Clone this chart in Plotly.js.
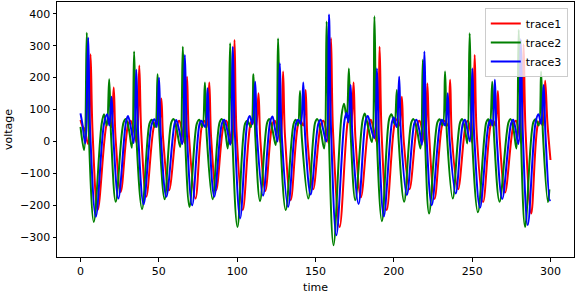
<!DOCTYPE html>
<html>
<head>
<meta charset="utf-8">
<script src="https://cdn.plot.ly/plotly-3.0.1.min.js"></script>
<style>html,body{margin:0;padding:0;background:#fff;}#chart{width:576px;height:296px;}</style>
</head>
<body>
<div id="chart"></div>
<script>
// trace1 (red) key points
const t1 = [0,1.5,2.5,4.8,6.4,7.7,11.0,16.5,18.2,19.7,21.2,22.4,25.7,30.5,32.0,34.0,35.9,37.5,38.8,42.0,47.0,48.8,50.2,51.6,52.8,56.5,61.8,63.0,64.8,66.5,68.0,69.2,73.4,77.5,79.0,80.6,82.2,83.4,86.6,91.5,93.0,94.8,96.7,98.3,99.6,103.6,108.5,110.0,112.0,113.6,114.8,118.0,122.5,124.0,126.0,127.8,129.3,130.5,134.2,139.0,140.5,142.2,143.7,144.9,148.5,153.5,155.0,156.8,158.4,159.9,161.2,165.4,170.5,171.8,172.9,174.3,175.5,179.0,184.0,185.3,187.3,189.4,190.9,192.2,195.5,200.5,202.0,203.6,205.1,206.3,210.0,215.0,216.3,218.2,219.9,221.4,222.6,226.0,231.0,232.5,234.3,235.9,237.1,241.0,246.0,247.3,248.8,250.1,251.6,252.9,257.0,262.0,263.5,264.9,266.4,267.6,271.0,276.5,278.0,279.6,281.3,282.8,284.1,287.7,292.0,293.5,295.1,296.6,298.0,300.0];
const v1 = [67,45,40,-8,273,30,-215,50,70,45,169,10,-158,55,65,35,-5,238,25,-173,50,65,50,135,5,-153,55,65,35,-5,203,20,-179,50,65,45,185,10,-153,55,65,35,-5,318,30,-215,55,68,45,151,5,-155,55,65,35,-5,219,20,-184,55,65,50,161,5,-150,55,65,35,-5,324,30,-268,60,80,55,185,10,-175,55,68,35,-5,297,25,-215,55,70,50,140,5,-150,55,65,35,-5,182,15,-180,55,65,50,193,10,-150,55,65,35,-5,271,25,-190,55,65,50,158,5,-160,55,65,35,-5,305,30,-226,55,65,50,190,60,-58];

// trace2 (green)
const t2 = [0,2.3,4.0,5.2,8.5,13.5,15.0,16.8,18.3,19.5,22.5,27.5,29.0,31.0,32.8,34.2,35.5,39.3,44.0,45.5,47.6,49.2,50.4,53.7,58.0,59.5,61.5,63.6,65.3,66.6,69.6,74.2,75.8,77.8,79.4,80.6,84.3,88.8,90.3,92.3,94.0,95.5,96.8,100.2,105.0,106.5,108.8,110.4,111.6,114.6,119.2,120.6,122.6,124.6,126.1,127.4,131.0,136.0,137.4,138.8,140.1,141.3,145.4,149.8,151.2,153.3,155.5,157.1,158.4,161.5,166.6,168.2,169.9,171.3,172.4,175.4,180.0,181.4,183.6,186.0,187.6,188.9,192.4,197.0,198.5,200.4,201.9,203.0,206.6,211.2,212.6,214.8,217.0,218.5,219.8,222.5,227.8,229.2,231.2,232.7,233.9,237.6,242.3,243.7,245.5,246.9,248.4,249.7,253.7,259.0,260.3,261.4,262.8,264.0,267.5,273.2,274.6,276.5,278.2,279.7,281.0,283.8,289.0,290.5,292.5,294.0,295.2,298.4,299.3];
const v2 = [46,-27,341,40,-252,55,85,50,195,20,-189,60,70,35,-20,282,30,-212,55,68,45,211,20,-181,60,70,35,-17,297,30,-205,55,68,45,185,15,-181,60,70,35,-22,308,30,-268,55,65,45,211,15,-187,60,70,35,-11,323,30,-215,55,68,50,158,10,-179,60,70,35,-22,376,40,-325,80,118,75,229,30,-184,65,88,45,-2,392,40,-250,70,85,55,161,10,-189,60,70,35,-22,256,25,-226,60,70,50,219,20,-179,60,70,35,-6,339,35,-222,60,70,50,187,15,-189,60,70,35,-22,350,35,-268,60,70,50,219,20,-190,-150];

// trace3 (blue)
const t3 = [0,1.2,3.0,4.9,6.1,9.8,15.0,17.0,18.4,19.8,21.0,24.2,29.0,30.3,32.3,34.0,35.6,36.8,40.3,45.5,47.3,48.7,50.1,51.3,54.8,60.0,61.1,63.0,64.9,66.6,67.9,71.3,76.0,77.2,79.6,81.1,82.3,85.4,90.2,91.7,93.7,95.6,97.2,98.5,101.9,106.5,108.0,109.8,111.5,112.7,116.5,121.0,122.5,124.3,125.8,127.2,128.4,132.5,137.5,139.0,140.6,142.2,143.4,146.9,151.8,153.3,155.0,156.9,158.6,159.9,163.3,168.5,169.8,171.0,172.4,173.6,177.5,182.0,183.4,185.5,187.6,189.2,190.4,193.6,198.8,200.0,201.8,203.4,204.6,208.3,213.0,214.4,216.3,218.0,219.5,220.8,224.2,229.5,230.8,232.8,234.4,235.6,239.5,244.0,245.4,247.0,248.6,250.1,251.3,255.0,260.5,261.8,263.0,264.5,265.7,269.2,274.8,276.2,277.8,279.5,281.0,282.3,285.5,290.5,292.3,294.0,295.6,296.8,299.5,299.8];
const v3 = [88,55,-6,325,40,-236,55,85,50,140,10,-179,60,80,40,-5,225,25,-197,55,70,45,200,15,-173,55,67,35,-8,271,25,-200,55,65,45,167,10,-173,55,68,35,-10,297,30,-241,60,80,55,187,15,-170,60,78,35,0,245,25,-205,55,68,55,185,15,-166,55,68,35,0,398,40,-294,65,90,60,177,15,-196,65,80,40,10,229,25,-235,60,75,45,203,15,-168,55,68,35,-10,282,25,-200,55,68,50,151,5,-163,55,68,35,0,229,20,-208,55,68,50,193,10,-180,55,68,35,-8,320,30,-262,60,85,55,177,20,-185,-182];

const names = ['trace1','trace2','trace3'];
const colors = ['#ff0000','#008000','#0000ff'];
const xTicks = [0,50,100,150,200,250,300];
const yTicks = [-300,-200,-100,0,100,200,300,400];

const xs = [t1,t2,t3], ys = [v1,v2,v3];
const data = xs.map((x,i)=>({
  x: x, y: ys[i], type:'scatter', mode:'lines', name: names[i],
  line:{color:colors[i], width:2, shape:'spline', smoothing:1}
}));

const font = {family:'DejaVu Sans, sans-serif', size:11, color:'#000'};
const layout = {
  width:576, height:296,
  margin:{l:57, r:2, t:2, b:39, pad:0},
  paper_bgcolor:'#fff', plot_bgcolor:'#fff',
  font: font,
  showlegend:true,
  legend:{x:0.988, y:0.976, xanchor:'right', yanchor:'top',
    bgcolor:'rgba(255,255,255,0.8)', bordercolor:'#cccccc', borderwidth:1,
    font:font, itemwidth:30},
  xaxis:{range:[-15,315], tickvals:xTicks, ticktext:xTicks.map(String),
    showgrid:false, zeroline:false, showline:true, mirror:true, linecolor:'#000', linewidth:1,
    ticks:'outside', ticklen:3.5, tickcolor:'#000', tickfont:font,
    title:{text:'time', font:font, standoff:6}},
  yaxis:{range:[-362,437], tickvals:yTicks,
    showgrid:false, zeroline:false, showline:true, mirror:true, linecolor:'#000', linewidth:1,
    ticks:'outside', ticklen:3.5, tickcolor:'#000', tickfont:font,
    title:{text:'voltage', font:font, standoff:5}}
};
Plotly.newPlot('chart', data, layout, {displayModeBar:false, staticPlot:true});
</script>
</body>
</html>
